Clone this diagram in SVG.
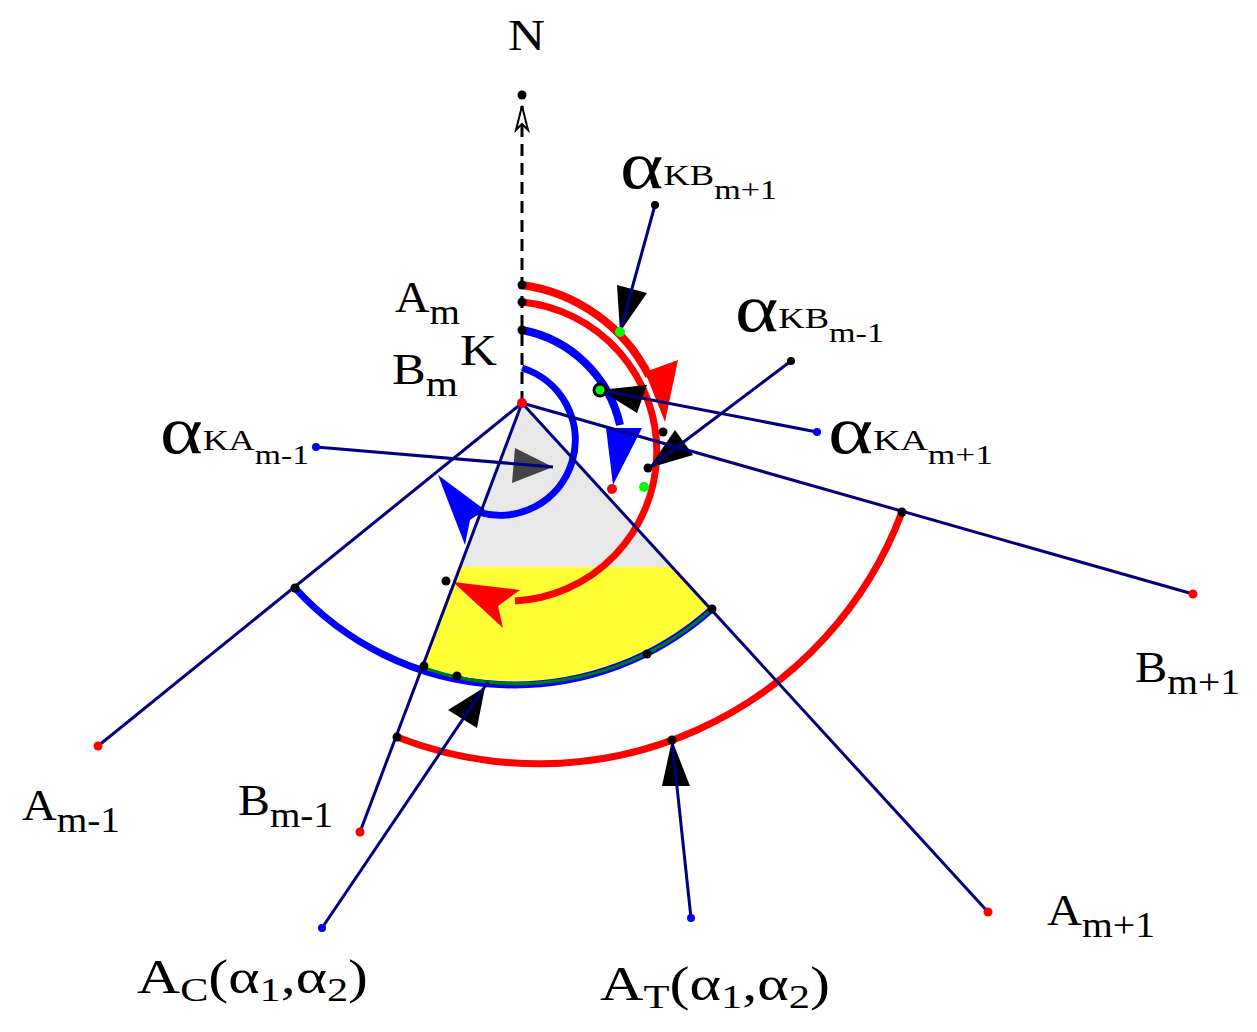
<svg xmlns="http://www.w3.org/2000/svg" width="1257" height="1032" viewBox="0 0 1257 1032">
<style>
.t{font-family:"Liberation Serif",serif;fill:#000}
.ln{stroke:#000080;stroke-width:3;fill:none}
.bd{fill:#000}
.rd{fill:#f00}
.bl{fill:#00f}
.gd{fill:#0f0}
</style>
<rect width="1257" height="1032" fill="#fff"/>
<g id="regions">
<polygon points="522,403 460,567 672,567" fill="#e8e8e8"/>
<path d="M460,567 L672,567 L712,609 A296,296 0 0 1 423,666 Z" fill="#ffff33"/>
</g>
<g id="arcs" fill="none">
<path d="M295,588 A296,296 0 0 0 712,609" stroke="#00f" stroke-width="7"/>
<path d="M424,668 A291,291 0 0 0 712,609" stroke="#008000" stroke-width="3"/>
<path d="M397,737 A388,388 0 0 0 902,512" stroke="#f00" stroke-width="7"/>
<path d="M522,285 A168,168 0 0 1 649,376" stroke="#f00" stroke-width="8"/>
<path d="M522,302 A150,150 0 0 1 515,601" stroke="#f00" stroke-width="7"/>
<path d="M522,330 A124,124 0 0 1 620,425" stroke="#00f" stroke-width="8"/>
<path d="M522,368 A75,75 0 1 1 478,512" stroke="#00f" stroke-width="7"/>
</g>
<g id="arrowheads">
<polygon points="645,372 678,360 665,422" fill="#f00"/>
<polygon points="453,582 520,590 498,606 503,628" fill="#f00"/>
<polygon points="606,428 642,428 613,485" fill="#00f"/>
<polygon points="438,475 485,510 470,520 465,545" fill="#00f"/>
<polygon points="515,448 553,467 512,483" fill="#444"/>
<polygon points="617,285 647,293 620,332" fill="#000"/>
<polygon points="600,390 647,385 637,413" fill="#000"/>
<polygon points="649,468 675,430 693,455" fill="#000"/>
<polygon points="485,687 477,728 448,710" fill="#000"/>
<polygon points="672,740 690,786 662,786" fill="#000"/>
</g>
<g id="connectors">
<line x1="522" y1="403" x2="522" y2="100" stroke="#000" stroke-width="3" stroke-dasharray="12,7"/>
<polygon points="522,106 528,130 522,124 516,130" fill="#fff" stroke="#000" stroke-width="2"/>
<line class="ln" x1="522" y1="403" x2="98" y2="746"/>
<line class="ln" x1="522" y1="403" x2="360" y2="832"/>
<line class="ln" x1="522" y1="403" x2="988" y2="912"/>
<line class="ln" x1="522" y1="403" x2="1193" y2="594"/>
<line class="ln" x1="316" y1="447" x2="553" y2="467"/>
<line class="ln" x1="817" y1="432" x2="600" y2="390"/>
<line class="ln" x1="791" y1="361" x2="649" y2="468"/>
<line class="ln" x1="655" y1="205" x2="620" y2="332"/>
<line class="ln" x1="322" y1="928" x2="488" y2="682"/>
<line class="ln" x1="691" y1="918" x2="672" y2="740"/>
</g>
<g id="points">
<circle class="bd" cx="522" cy="95" r="4.5"/>
<circle class="bd" cx="522" cy="285" r="4.5"/>
<circle class="bd" cx="522" cy="302" r="4.5"/>
<circle class="bd" cx="522" cy="330" r="4.5"/>
<circle class="bd" cx="295" cy="588" r="4.5"/>
<circle class="bd" cx="424" cy="666" r="4.5"/>
<circle class="bd" cx="457" cy="676" r="4.5"/>
<circle class="bd" cx="647" cy="654" r="4.5"/>
<circle class="bd" cx="712" cy="609" r="4.5"/>
<circle class="bd" cx="397" cy="737" r="4.5"/>
<circle class="bd" cx="672" cy="740" r="4.5"/>
<circle class="bd" cx="902" cy="512" r="4.5"/>
<circle class="bd" cx="446" cy="581" r="4.5"/>
<circle class="bd" cx="663" cy="432" r="4.5"/>
<circle class="bd" cx="648" cy="468" r="4.5"/>
<circle class="bd" cx="655" cy="205" r="4"/>
<circle class="bd" cx="791" cy="361" r="4"/>
<circle cx="600" cy="390" r="6" fill="#0f0" stroke="#000" stroke-width="3"/>
<circle class="gd" cx="620" cy="332" r="5"/>
<circle class="gd" cx="644" cy="487" r="5"/>
<circle class="rd" cx="522" cy="403" r="5"/>
<circle class="rd" cx="612" cy="489" r="5"/>
<circle class="rd" cx="98" cy="746" r="4.5"/>
<circle class="rd" cx="360" cy="832" r="4.5"/>
<circle class="rd" cx="988" cy="912" r="4.5"/>
<circle class="rd" cx="1193" cy="594" r="4.5"/>
<circle class="bl" cx="316" cy="447" r="4"/>
<circle class="bl" cx="817" cy="432" r="4"/>
<circle class="bl" cx="322" cy="928" r="4"/>
<circle class="bl" cx="691" cy="918" r="4"/>
</g>
<g id="labels">
<text class="t" x="508" y="50" font-size="44" textLength="37" lengthAdjust="spacingAndGlyphs">N</text>
<text class="t" x="395" y="312" font-size="44" textLength="65" lengthAdjust="spacingAndGlyphs">A<tspan font-size="36" dy="12">m</tspan></text>
<text class="t" x="460" y="365" font-size="44" textLength="37" lengthAdjust="spacingAndGlyphs">K</text>
<text class="t" x="392" y="384" font-size="44" textLength="66" lengthAdjust="spacingAndGlyphs">B<tspan font-size="36" dy="12">m</tspan></text>
<text class="t" x="620" y="188" font-size="68" textLength="157" lengthAdjust="spacingAndGlyphs">α<tspan font-size="30" dy="-3">KB</tspan><tspan font-size="28" dy="14">m+1</tspan></text>
<text class="t" x="735" y="331" font-size="68" textLength="149" lengthAdjust="spacingAndGlyphs">α<tspan font-size="30" dy="-3">KB</tspan><tspan font-size="28" dy="14">m-1</tspan></text>
<text class="t" x="160" y="453" font-size="68" textLength="149" lengthAdjust="spacingAndGlyphs">α<tspan font-size="30" dy="-3">KA</tspan><tspan font-size="28" dy="14">m-1</tspan></text>
<text class="t" x="828" y="453" font-size="68" textLength="165" lengthAdjust="spacingAndGlyphs">α<tspan font-size="30" dy="-3">KA</tspan><tspan font-size="28" dy="14">m+1</tspan></text>
<text class="t" x="22" y="820" font-size="44" textLength="98" lengthAdjust="spacingAndGlyphs">A<tspan font-size="36" dy="12">m-1</tspan></text>
<text class="t" x="238" y="815" font-size="44" textLength="95" lengthAdjust="spacingAndGlyphs">B<tspan font-size="36" dy="12">m-1</tspan></text>
<text class="t" x="1135" y="682" font-size="44" textLength="105" lengthAdjust="spacingAndGlyphs">B<tspan font-size="36" dy="12">m+1</tspan></text>
<text class="t" x="1047" y="925" font-size="44" textLength="108" lengthAdjust="spacingAndGlyphs">A<tspan font-size="36" dy="12">m+1</tspan></text>
<text class="t" x="137" y="993" font-size="48" textLength="231" lengthAdjust="spacingAndGlyphs">A<tspan font-size="34" dy="8">C</tspan><tspan dy="-8">(α</tspan><tspan font-size="34" dy="8">1</tspan><tspan dy="-8">,α</tspan><tspan font-size="34" dy="8">2</tspan><tspan dy="-8">)</tspan></text>
<text class="t" x="600" y="1000" font-size="48" textLength="230" lengthAdjust="spacingAndGlyphs">A<tspan font-size="34" dy="8">T</tspan><tspan dy="-8">(α</tspan><tspan font-size="34" dy="8">1</tspan><tspan dy="-8">,α</tspan><tspan font-size="34" dy="8">2</tspan><tspan dy="-8">)</tspan></text>
</g>
</svg>
